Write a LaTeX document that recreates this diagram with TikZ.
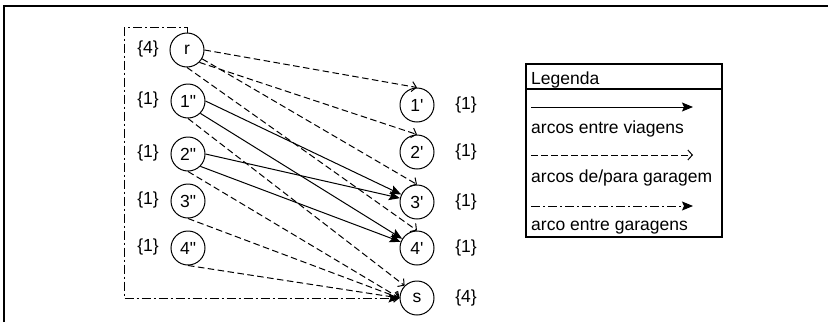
\documentclass[tikz,border=0pt]{standalone}
\usepackage{fontspec}
\setmainfont{Liberation Sans}
\usetikzlibrary{arrows.meta}
\begin{document}
\begin{tikzpicture}[x=1pt,y=-1pt,
  every node/.style={font=\fontsize{17.5}{20}\selectfont},
  vtx/.style={circle,draw,line width=1pt,minimum size=34pt,inner sep=0pt},
  supply/.style={inner sep=0pt},
  legtext/.style={anchor=base west,inner sep=0pt},
  trip/.style={line width=1pt,-{Stealth[length=11pt,width=9pt,inset=2pt]}},
  garage/.style={line width=1pt,dash pattern=on 6.5pt off 3.5pt,
    -{Straight Barb[length=4.5pt,width=10pt,line width=1pt]}},
  depot/.style={line width=1pt,dash pattern=on 9pt off 3pt on 2pt off 3pt,
    -{Stealth[length=11pt,width=9pt,inset=2pt]}}]
\useasboundingbox (0,0) rectangle (828,322);

% outer frame (top and left edges)
\draw[line width=1.4pt] (4,322) -- (4,6) -- (828,6);

% trip ends and source depot
\node[vtx] (r)  at (187,50)  {r};
\node[vtx] (e1) at (188,101) {1\textquotedbl};
\node[vtx] (e2) at (188,154) {2\textquotedbl};
\node[vtx] (e3) at (188,201) {3\textquotedbl};
\node[vtx] (e4) at (188,248) {4\textquotedbl};

% trip starts and sink depot
\node[vtx] (b1) at (417,105) {1\textquotesingle};
\node[vtx] (b2) at (417,152) {2\textquotesingle};
\node[vtx] (b3) at (417,202) {3\textquotesingle};
\node[vtx] (b4) at (417,248) {4\textquotesingle};
\node[vtx] (s)  at (417,298) {s};

% supplies / demands
\node[supply] (qr)  at (148,49)  {\{4\}};
\node[supply] (q1)  at (148,100) {\{1\}};
\node[supply] (q2)  at (148,153) {\{1\}};
\node[supply] (q3)  at (148,200) {\{1\}};
\node[supply] (q4)  at (148,247) {\{1\}};
\node[supply] (p1)  at (466,105) {\{1\}};
\node[supply] (p2)  at (466,152) {\{1\}};
\node[supply] (p3)  at (466,202) {\{1\}};
\node[supply] (p4)  at (466,248) {\{1\}};
\node[supply] (ps)  at (466,298) {\{4\}};

% arcs leaving the source depot
\draw[garage] (r.east) -- (b1.north);
\draw[garage] (r.south east) -- (b2.north);
\draw[garage] (r) -- (b3.north);
\draw[garage] (r.south) -- (b4.north);

% arcs between trips
\draw[trip] (e1.east) -- (b3);
\draw[trip] (e1.south east) -- (b4);
\draw[trip] (e2.east) -- (b3);
\draw[trip] (e2.south east) -- (b4);

% arcs into the sink depot
\draw[garage] (e1.south) -- (s.north west);
\draw[garage] (e2.south) -- (s.west);
\draw[garage] (e3.south) -- (s.west);
\draw[garage] (e4.south) -- (s.west);

% arc between depots
\coordinate (lt) at (124,27);
\draw[depot] (r.north) -- (r.north |- lt) -- (lt) |- (s.west);

% legend
\draw[line width=1.1pt] (526,64) rectangle (722,237);
\draw[line width=1.1pt] (526,89) -- (722,89);
\node[legtext] (lh) at (531,84) {Legenda};
\coordinate (l1a) at (531,107);  \coordinate (l1b) at (693,107);
\coordinate (l2a) at (531,155);  \coordinate (l2b) at (693,155);
\coordinate (l3a) at (531,206);  \coordinate (l3b) at (693,206);
\draw[trip]   (l1a) -- (l1b);
\node[legtext] (lt1) at (531,133) {arcos entre viagens};
\draw[garage] (l2a) -- (l2b);
\node[legtext] (lt2) at (531,182) {arcos de/para garagem};
\draw[depot]  (l3a) -- (l3b);
\node[legtext] (lt3) at (531,230) {arco entre garagens};
\end{tikzpicture}
\end{document}
